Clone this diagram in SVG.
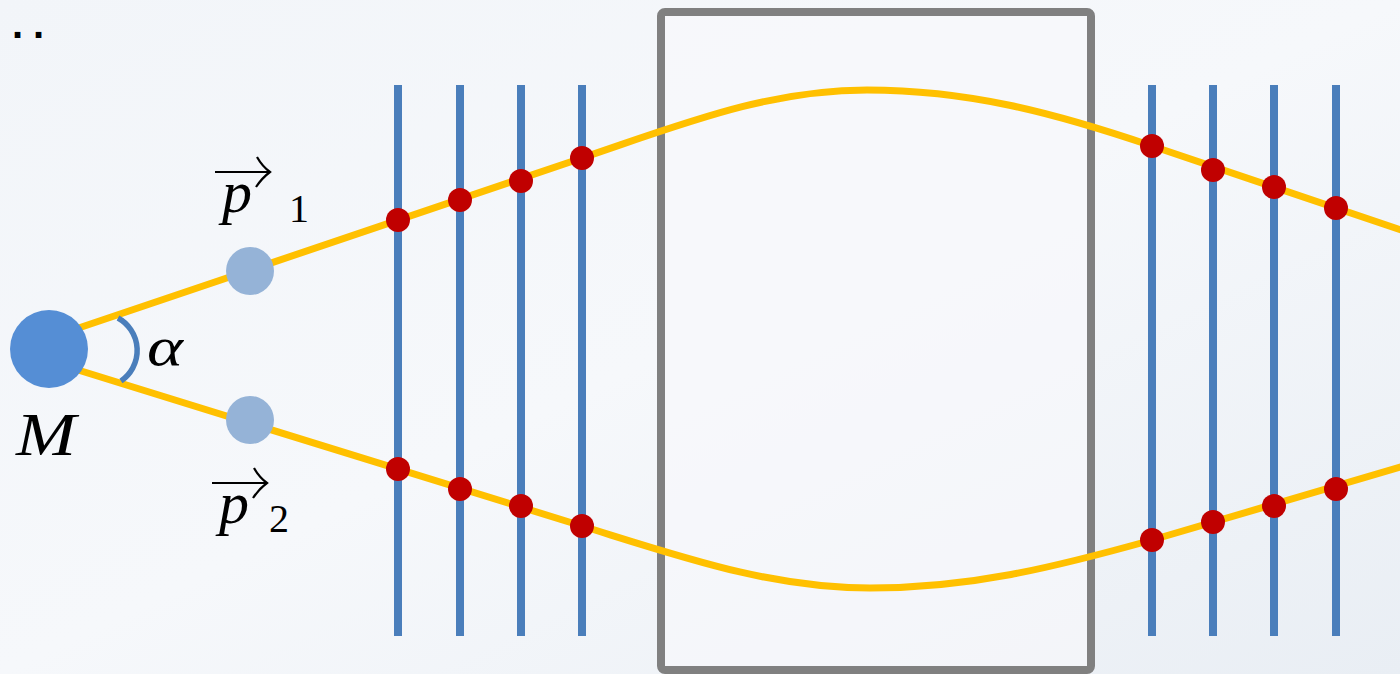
<svg xmlns="http://www.w3.org/2000/svg" width="1400" height="674" viewBox="0 0 1400 674">
  <defs>
    <linearGradient id="bg" x1="0" y1="0" x2="1" y2="1">
      <stop offset="0" stop-color="#f2f5f9"/>
      <stop offset="0.5" stop-color="#f6f8fb"/>
      <stop offset="1" stop-color="#e9eef4"/>
    </linearGradient>
    <style>
      .ray{fill:none;stroke:#ffc000;stroke-width:7;stroke-linecap:round}
      .det{stroke:#4a7ebb;stroke-width:8}
      .hit{fill:#c00000}
      .math{font-family:"Liberation Serif","DejaVu Serif",serif;font-style:italic;fill:#000}
      .num{font-family:"Liberation Serif","DejaVu Serif",serif;fill:#000}
      .vec{fill:none;stroke:#000;stroke-width:2.2}
    </style>
  </defs>
  <rect width="1400" height="674" fill="url(#bg)"/>
  <text x="12" y="38" font-family="Liberation Sans, Arial, sans-serif" font-weight="bold" font-size="40" letter-spacing="10" fill="#000">..</text>

  <g id="box">
    <rect x="661" y="12" width="430" height="658" rx="4" fill="#f8f9fc" fill-opacity="0.6" stroke="#808080" stroke-width="8"/>
  </g>

  <g id="connectors">
    <path class="ray" d="M49,338 L582,158 C682,124.3 767,90 867,90 C967,90 1052,112 1152,146 L1404,231"/>
    <path class="ray" d="M49,361 L582,526 C682,557 770,588 870,588 C970,588 1052,568 1152,540 L1404,466"/>
    <path d="M118,318 A37,37 0 0 1 121,381" fill="none" stroke="#4a7ebb" stroke-width="5.5"/>
  </g>

  <g id="detectors-left">
    <line class="det" x1="398" y1="85" x2="398" y2="636"/>
    <line class="det" x1="460" y1="85" x2="460" y2="636"/>
    <line class="det" x1="521" y1="85" x2="521" y2="636"/>
    <line class="det" x1="582" y1="85" x2="582" y2="636"/>
  </g>
  <g id="detectors-right">
    <line class="det" x1="1152" y1="85" x2="1152" y2="636"/>
    <line class="det" x1="1213" y1="85" x2="1213" y2="636"/>
    <line class="det" x1="1274" y1="85" x2="1274" y2="636"/>
    <line class="det" x1="1336" y1="85" x2="1336" y2="636"/>
  </g>
  <g id="hits">
    <circle class="hit" cx="398" cy="220" r="12"/>
    <circle class="hit" cx="460" cy="200" r="12"/>
    <circle class="hit" cx="521" cy="181" r="12"/>
    <circle class="hit" cx="582" cy="158" r="12"/>
    <circle class="hit" cx="398" cy="469" r="12"/>
    <circle class="hit" cx="460" cy="489" r="12"/>
    <circle class="hit" cx="521" cy="506" r="12"/>
    <circle class="hit" cx="582" cy="526" r="12"/>
    <circle class="hit" cx="1152" cy="146" r="12"/>
    <circle class="hit" cx="1213" cy="170" r="12"/>
    <circle class="hit" cx="1274" cy="187" r="12"/>
    <circle class="hit" cx="1336" cy="208" r="12"/>
    <circle class="hit" cx="1152" cy="540" r="12"/>
    <circle class="hit" cx="1213" cy="522" r="12"/>
    <circle class="hit" cx="1274" cy="506" r="12"/>
    <circle class="hit" cx="1336" cy="489" r="12"/>
  </g>

  <g id="M">
    <circle cx="49" cy="349" r="39" fill="#558ed5"/>
    <text class="math" x="16" y="455" font-size="61" textLength="60" lengthAdjust="spacingAndGlyphs">M</text>
  </g>
  <g id="alpha">
    <text class="math" x="147" y="365" font-size="54" textLength="36" lengthAdjust="spacingAndGlyphs">α</text>
  </g>
  <g id="p1">
    <circle cx="250" cy="271" r="24" fill="#95b3d7"/>
    <path class="vec" d="M215,172 L270,172 M257,157 Q262,166 270,172 Q262,178 256,187"/>
    <text class="math" x="222" y="212" font-size="60">p</text>
    <text class="num" x="289" y="222" font-size="40">1</text>
  </g>
  <g id="p2">
    <circle cx="250" cy="420" r="24" fill="#95b3d7"/>
    <path class="vec" d="M212,483 L267,483 M254,468 Q259,477 267,483 Q259,489 253,498"/>
    <text class="math" x="219" y="523" font-size="60">p</text>
    <text class="num" x="269" y="532" font-size="40">2</text>
  </g>
</svg>
